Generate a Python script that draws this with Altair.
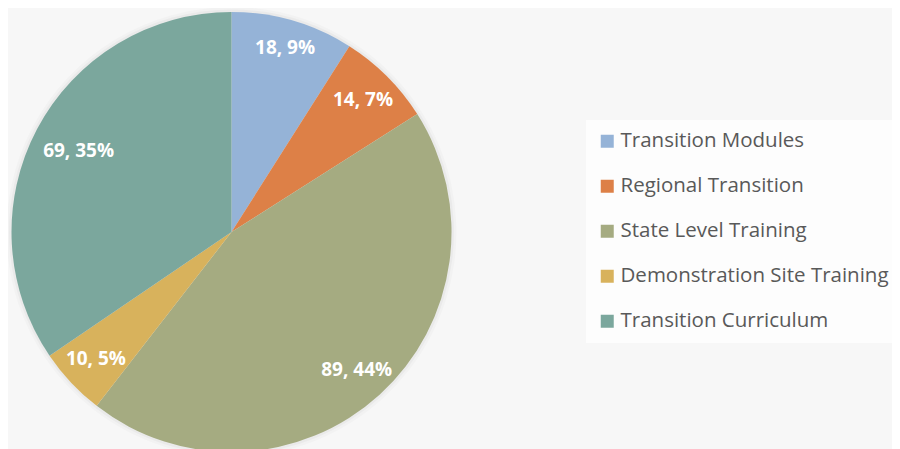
import math
import altair as alt
import pandas as pd

categories = ["Transition Modules", "Regional Transition", "State Level Training",
              "Demonstration Site Training", "Transition Curriculum"]
values = [18, 14, 89, 10, 69]
percents = [9, 7, 44, 5, 35]
colors = ["#95B3D7", "#DD8047", "#A5AB81", "#D8B25C", "#7BA79D"]

df = pd.DataFrame({
    "category": categories,
    "value": values,
    "order": list(range(len(categories))),
    "label": [f"{v}, {p}%" for v, p in zip(values, percents)],
})

TOTAL = sum(values)
CX, CY = 223.5, 224  # pie centre inside the view
theta_scale = alt.Scale(domain=[0, TOTAL], range=[0, 2 * math.pi])

color = alt.Color(
    "category:N",
    scale=alt.Scale(domain=categories, range=colors),
    sort=categories,
    legend=alt.Legend(
        title=None,
        orient="none",
        legendX=578,
        legendY=112,
        symbolType="square",
        symbolSize=169,
        symbolStrokeWidth=0,
        labelFont="Open Sans",
        labelFontSize=20.5,
        labelColor="#595959",
        rowPadding=24,
        labelOffset=3,
        fillColor="#FDFDFD",
        padding=11,
        labelLimit=400,
    ),
)

base = alt.Chart(df).encode(x=alt.value(CX), y=alt.value(CY))

arcs = base.encode(
    theta=alt.Theta("value:Q", stack=True, scale=theta_scale),
    order=alt.Order("order:Q"),
)

shadow1 = arcs.mark_arc(outerRadius=225, color="#000000", opacity=0.02, stroke=None)
shadow2 = arcs.mark_arc(outerRadius=222.5, color="#000000", opacity=0.03, stroke=None)
pie = arcs.mark_arc(outerRadius=220, stroke=None).encode(color=color)

text = base.transform_window(
    cum="sum(value)", sort=[alt.SortField("order")], frame=[None, 0]
).transform_calculate(
    mid="datum.cum - datum.value / 2",
    lr="datum.category == 'Transition Curriculum' ? 173 : "
       "(datum.category == 'Transition Modules' ? 192 : 186)",
).mark_text(
    font="Open Sans", fontSize=19, fontWeight="bold", color="white"
).encode(
    theta=alt.Theta("mid:Q", stack=None, scale=theta_scale),
    radius=alt.Radius("lr:Q", scale=None),
    text="label:N",
)

chart = (shadow1 + shadow2 + pie + text).properties(
    width=884, height=441, background="#F7F7F7",
    autosize=alt.AutoSizeParams(type="none"), padding=0,
).configure_view(stroke=None)

chart.save("out.html", embed_options={"renderer": "svg", "actions": False})
